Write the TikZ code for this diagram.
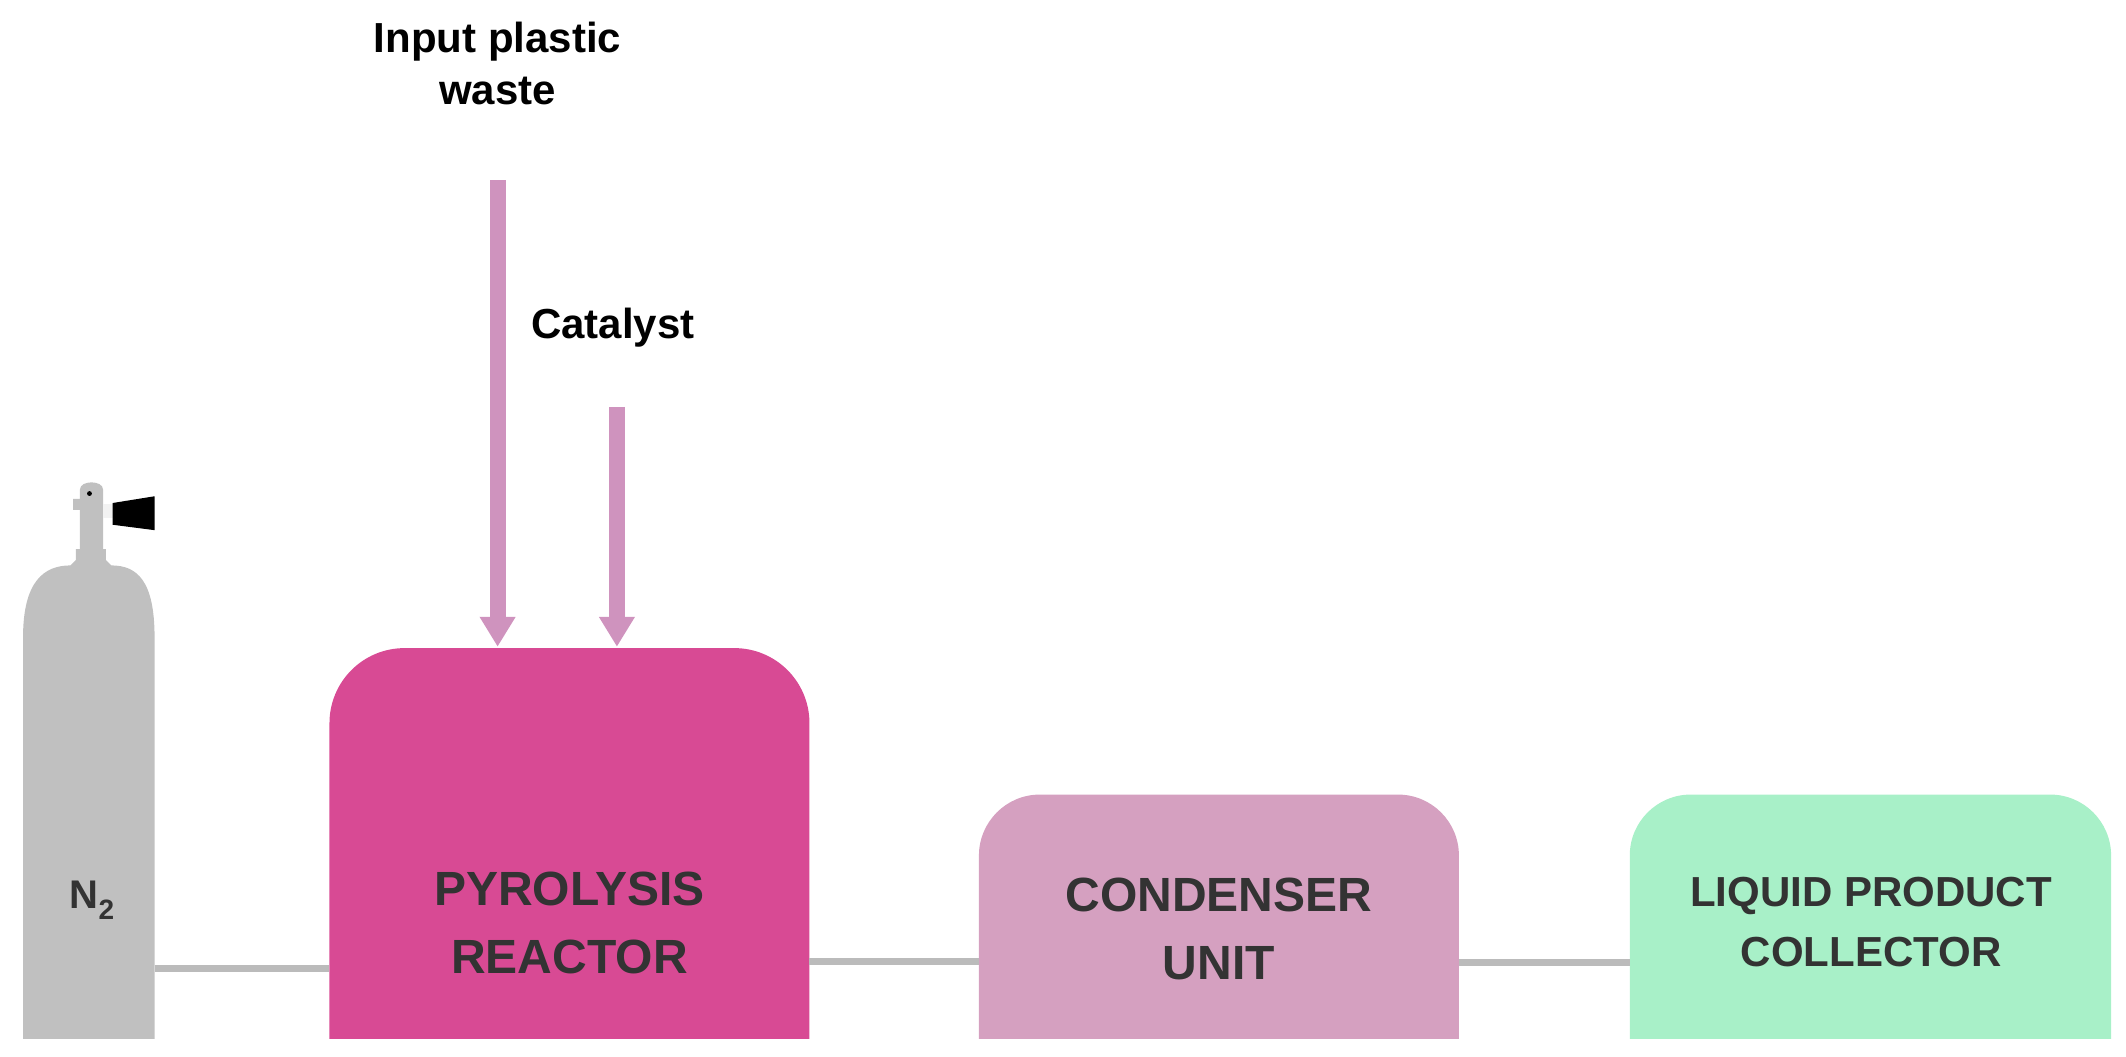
\documentclass[tikz,border=0pt]{standalone}
\usepackage{fontspec}
\setmainfont{Liberation Sans}
\usetikzlibrary{arrows.meta}
\definecolor{reac}{HTML}{D84A94}
\definecolor{cond}{HTML}{D5A0C0}
\definecolor{coll}{HTML}{A8F0C8}
\definecolor{feed}{HTML}{CF93BE}
\definecolor{pipe}{HTML}{BBBBBB}
\definecolor{cyl}{HTML}{C0C0C0}
\definecolor{txt}{HTML}{333333}
\begin{document}
\begin{tikzpicture}[x=1.356pt,y=-1.356pt,
  unit/.style={draw=none,font=\bfseries\fontsize{48}{56}\selectfont,text=txt,align=center},
  lab/.style={font=\bfseries\fontsize{42}{52}\selectfont,align=center},
  pipeline/.style={pipe,line width=7pt},
  feedarrow/.style={feed,line width=16pt,-{Triangle[width=34pt,length=30pt]}}]
\useasboundingbox (0,0) rectangle (1568,779.5);
\begin{scope}
\clip (0,0) rectangle (1568,766);
\fill[cyl] (17,820) -- (17,470) .. controls (17,428) and (33,417) .. (52,417) -- (56,413) -- (56,405) -- (78,405) -- (78,413) -- (82,417) .. controls (101,417) and (114,428) .. (114,470) -- (114,820) -- cycle;
\path[fill=reac,rounded corners=75pt] (243,850) -- (243,478) -- (597,478) -- (597,850) -- cycle;
\path[fill=cond,rounded corners=61pt] (722,850) -- (722,586) -- (1076,586) -- (1076,850) -- cycle;
\path[fill=coll,rounded corners=61pt] (1202,850) -- (1202,586) -- (1557,586) -- (1557,850) -- cycle;
\end{scope}
\fill[cyl] (59,405) -- (59,376) -- (54,376) -- (54,368) -- (59,368) -- (59,361) .. controls (59,354) and (76,354) .. (76,361) -- (76,405) -- cycle;
\fill[white!90!gray] (76,372) rectangle (83,382);
\fill[black] (83,371) -- (114,366) -- (114,391) -- (83,387) -- cycle;
\fill[black] (66,364) circle (1.8);
\node[font=\bfseries\fontsize{40}{46}\selectfont,text=txt] (n2) at (68,664) {N$_\mathbf{2}$};
\coordinate (cylr) at (114,714);
\node[unit] (reactor) at (420,681) {PYROLYSIS\\[12pt]REACTOR};
\node[unit] (condenser) at (899,685) {CONDENSER\\[12pt]UNIT};
\node[unit,font=\bfseries\fontsize{42}{50}\selectfont] (collector) at (1380,680) {LIQUID PRODUCT\\[10pt]COLLECTOR};
\coordinate (rl) at (243,714); \coordinate (rr) at (597,709);
\coordinate (cl) at (722,709); \coordinate (cr) at (1076,710);
\coordinate (ll) at (1202,710);
\draw[pipeline] (cylr) -- (rl);
\draw[pipeline] (rr) -- (cl);
\draw[pipeline] (cr) -- (ll);
\node[lab] (plastic) at (367,47) {Input plastic\\waste};
\node[lab] (catalyst) at (452,242) {Catalyst};
\coordinate (ps) at (367,133); \coordinate (pe) at (367,477);
\coordinate (cs) at (455,300); \coordinate (ce) at (455,477);
\draw[feedarrow] (ps) -- (pe);
\draw[feedarrow] (cs) -- (ce);
\end{tikzpicture}
\end{document}
